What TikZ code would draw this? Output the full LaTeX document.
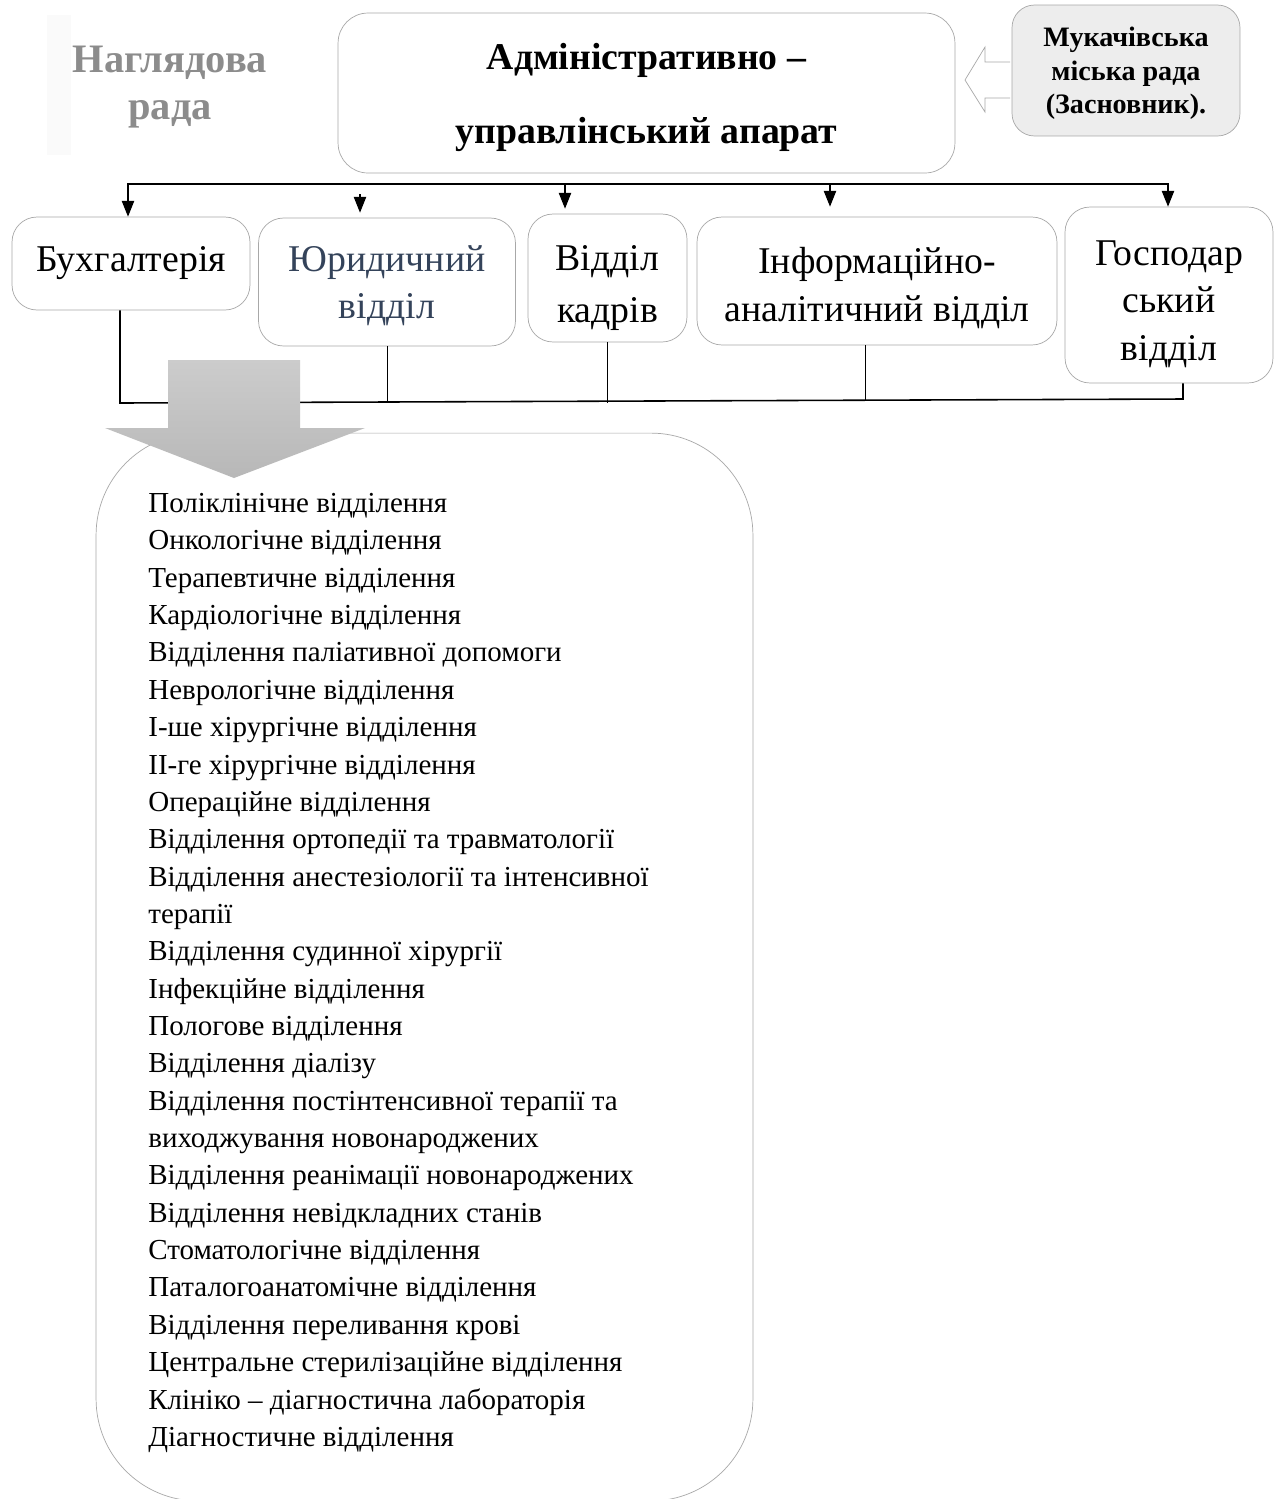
\documentclass[tikz,border=0pt]{standalone}
\usepackage{fontspec}
\setmainfont{Liberation Serif}
\usetikzlibrary{arrows.meta}
\definecolor{boxline}{HTML}{A8A8A8}
\definecolor{jurtext}{HTML}{34435A}
\tikzset{
  unit/.style={draw=boxline, fill=white, rounded corners=0.5cm, align=center, inner sep=0pt, font=\fontsize{21.5}{27}\selectfont},
  lower/.style={text height=#1, text depth=0pt},
  flat/.style={text depth=0pt},
  arr/.style={-{Triangle[length=9pt,width=7pt]}, line width=0.8pt},
  bus/.style={line width=0.9pt},
}
\begin{document}
\begin{tikzpicture}[x=0.02cm,y=-0.02cm]
\clip (0,0) rectangle (1281,1499);
\fill[white] (0,0) rectangle (1281,1499);

\fill[black!2] (47,15) rectangle (71,155);
\node[align=center, text=black!45, font=\bfseries\fontsize{23}{27}\selectfont] (nagl) at (170,87) {Наглядова\\рада};

\node[unit, flat, minimum width=12.34cm, minimum height=3.2cm, rounded corners=0.6cm, font=\bfseries\fontsize{21.5}{42}\selectfont] (adm) at (646.5,93) {Адміністративно –\\управлінський апарат};

\node[unit, flat, fill=black!7, minimum width=4.56cm, minimum height=2.62cm, rounded corners=0.45cm, font=\bfseries\fontsize{16}{19}\selectfont] (muk) at (1126,70.5) {Мукачівська\\міська рада\\(Засновник).};

\draw[boxline, fill=white] (1010,62) -- (985,62) -- (985,47) -- (965,80) -- (985,112) -- (985,98) -- (1010,98);

\node[unit, minimum width=4.76cm, minimum height=1.86cm] (buh) at (131,263.5) {Бухгалтерія};
\node[unit, flat, minimum width=5.14cm, minimum height=2.56cm, text=jurtext] (jur) at (387,282) {Юридичний\\відділ};
\node[unit, lower=51pt, minimum width=3.18cm, minimum height=2.56cm, font=\fontsize{21.5}{29.5}\selectfont] (kadr) at (607.5,278) {Відділ\\кадрів};
\node[unit, lower=46pt, minimum width=7.2cm, minimum height=2.56cm] (inf) at (877,281) {Інформаційно-\\аналітичний відділ};
\node[unit, lower=74pt, minimum width=4.16cm, minimum height=3.52cm] (gosp) at (1169,295) {Господар\\ський\\відділ};

\coordinate (tl) at (128,184);
\coordinate (tr) at (1168,184);
\coordinate (j1) at (360,194);
\coordinate (k1) at (565,184);
\coordinate (i1) at (830,184);
\draw[arr, {Triangle[length=9pt,width=7pt]}-{Triangle[length=9pt,width=7pt]}] (tl |- buh.north) -- (tl) -- (tr) -- (tr |- gosp.north);
\draw[arr] (j1) -- ([yshift=0.1cm]j1 |- jur.north);
\draw[arr] (k1) -- ([yshift=0.1cm]k1 |- kadr.north);
\draw[arr] (i1) -- ([yshift=0.2cm]i1 |- inf.north);

\coordinate (bl) at (120,403);
\coordinate (br) at (1183,399);
\coordinate (i2) at (865,401);
\draw[bus] (bl |- buh.south) -- (bl) -- (br) -- (br |- gosp.south);
\draw (jur.south) -- (jur.south |- bl);
\draw (kadr.south) -- (kadr.south |- bl);
\draw (i2 |- inf.south) -- (i2);

\node[draw=boxline, fill=white, rounded corners=2.04cm, minimum width=13.14cm, minimum height=21.36cm, inner sep=0pt] (depts) at (424.5,967) {};

\shade[top color=black!20, bottom color=black!28] (168,360) -- (300,360) -- (300,428) -- (365,428) -- (234,478) -- (105,428) -- (168,428) -- cycle;

\node[anchor=north west, align=left, inner sep=0pt, font=\fontsize{16.5}{21.26}\selectfont] (lst) at (148,493) {Поліклінічне відділення\\
Онкологічне відділення\\
Терапевтичне відділення\\
Кардіологічне відділення\\
Відділення паліативної допомоги\\
Неврологічне відділення\\
І-ше хірургічне відділення\\
ІІ-ге хірургічне відділення\\
Операційне відділення\\
Відділення ортопедії та травматології\\
Відділення анестезіології та інтенсивної\\
терапії\\
Відділення судинної хірургії\\
Інфекційне відділення\\
Пологове відділення\\
Відділення діалізу\\
Відділення постінтенсивної терапії та\\
виходжування новонароджених\\
Відділення реанімації новонароджених\\
Відділення невідкладних станів\\
Стоматологічне відділення\\
Паталогоанатомічне відділення\\
Відділення переливання крові\\
Центральне стерилізаційне відділення\\
Клініко – діагностична лабораторія\\
Діагностичне відділення};

\end{tikzpicture}
\end{document}
